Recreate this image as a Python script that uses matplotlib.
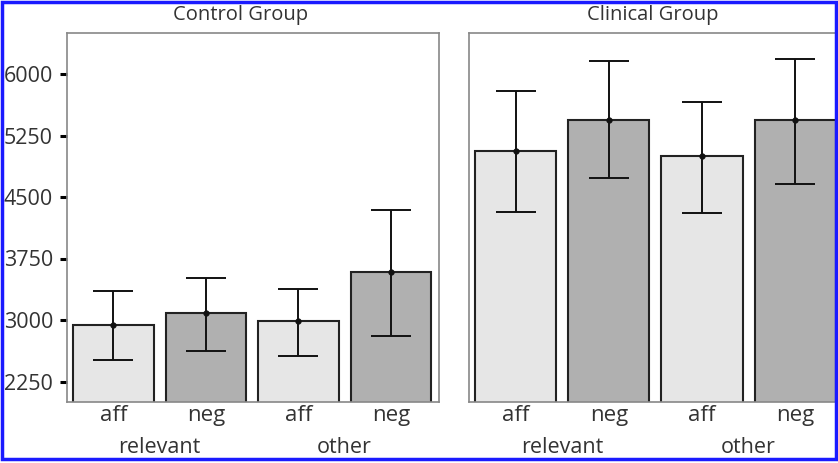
import matplotlib.pyplot as plt
import matplotlib as mpl
from matplotlib.patches import Rectangle

mpl.rc('font', family=['Open Sans', 'DejaVu Sans'])

# data
conditions = ['aff', 'neg', 'aff', 'neg']
groups = ['relevant', 'other']
yticks = [2250, 3000, 3750, 4500, 5250, 6000]

control_mean = [2940, 3090, 2985, 3580]
control_low = [2510, 2625, 2565, 2810]
control_high = [3355, 3510, 3375, 4340]

clinical_mean = [5060, 5445, 5005, 5445]
clinical_low = [4320, 4735, 4300, 4660]
clinical_high = [5790, 6160, 5660, 6180]

bar_colors = ['#e6e6e6', '#b0b0b0', '#e6e6e6', '#b0b0b0']

fig = plt.figure(figsize=(8.38, 4.63), dpi=100)

ax1 = fig.add_axes([67 / 838, 1 - 402 / 463, 372 / 838, 369 / 463])
ax2 = fig.add_axes([469 / 838, 1 - 402 / 463, 370 / 838, 369 / 463])


def panel(ax, means, low, high, xmax):
    x = range(len(means))
    ax.bar(x, means, width=0.87, color=bar_colors, edgecolor='#222222',
           linewidth=1.5, zorder=2)
    yerr = [[m - l for m, l in zip(means, low)],
            [h - m for m, h in zip(means, high)]]
    ax.errorbar(x, means, yerr=yerr, fmt='o', color='#111111', ms=3.5,
                elinewidth=1.4, capsize=14.5, capthick=1.4, zorder=3)
    ax.set(xlim=(-0.5, xmax), ylim=(2000, 6500))
    ax.set_xticks(list(x))
    ax.set_xticklabels(conditions, fontsize=16, color='#333333')
    ax.tick_params(axis='x', length=0, pad=2)
    for s in ax.spines.values():
        s.set_color('#888888')
        s.set_linewidth(1.2)


panel(ax1, control_mean, control_low, control_high, 3.52)
panel(ax2, clinical_mean, clinical_low, clinical_high, 3.47)

ax1.set_yticks(yticks)
ax1.set_yticklabels([str(v) for v in yticks], fontsize=15.5, color='#333333')
ax1.tick_params(axis='y', length=5, width=2.2, color='black', pad=5)
ax2.set_yticks([])

# group labels under the bars, sitting just above the frame
trans = mpl.transforms.blended_transform_factory
for ax in (ax1, ax2):
    for i, g in enumerate(groups):
        ax.text(2 * i + 0.5, 1 - 453 / 463, g,
                transform=trans(ax.transData, fig.transFigure),
                ha='center', va='baseline', fontsize=15.5, color='#333333')

fig.text(241 / 838, 1 - 15 / 463, 'Control Group', ha='center', va='center',
         fontsize=14.5, color='#333333')
fig.text(653 / 838, 1 - 15 / 463, 'Clinical Group', ha='center', va='center',
         fontsize=14.5, color='#333333')

# blue frame around the figure
fig.patches.append(Rectangle((2 / 838, 4 / 463), 834 / 838, 457 / 463,
                             transform=fig.transFigure, fill=False,
                             edgecolor='#1a1aff', linewidth=2.5, zorder=10))

fig.savefig('out.png', dpi=100)
